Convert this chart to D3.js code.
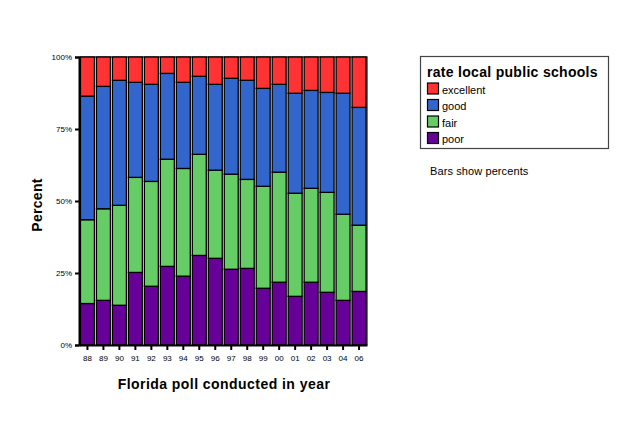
<!DOCTYPE html>
<html><head><meta charset="utf-8">
<script src="https://cdn.jsdelivr.net/npm/d3@7"></script>
<style>body{margin:0;background:#fff;} text{font-family:"Liberation Sans",Arial,sans-serif;}</style>
</head><body>
<svg id="c" width="634" height="421"></svg>
<script>
const years = ["88","89","90","91","92","93","94","95","96","97","98","99","00","01","02","03","04","06"];
const poor = [14.4,15.5,13.8,25.2,20.4,27.3,23.9,31.1,30.1,26.3,26.6,19.7,21.8,16.9,21.8,18.3,15.5,18.6];
const fair = [29.1,31.8,34.7,33.0,36.4,37.2,37.4,35.1,30.6,33.0,30.9,35.4,38.2,35.8,32.6,34.7,29.9,23.0];
const good = [42.9,42.5,43.4,33.0,33.7,29.8,29.9,27.1,29.8,33.3,34.4,34.0,30.5,34.7,34.0,34.7,42.0,40.9];
const excellent = [13.6,10.2,8.1,8.8,9.5,5.7,8.8,6.7,9.5,7.4,8.1,10.9,9.5,12.6,11.6,12.3,12.6,17.5];
const seriesNames = ["poor","fair","good","excellent"];
const seriesColors = ["#660099","#66cc66","#3366cc","#ff3333"];
const yTicks = [0,25,50,75,100];
const legendOrder = ["excellent","good","fair","poor"];

const rows = years.map((y,i)=>({year:y, poor:poor[i], fair:fair[i], good:good[i], excellent:excellent[i]}));
const svg = d3.select("#c");
const L=79, R=367, T=57, B=345;
const x = d3.scaleBand().domain(years).range([L+0.5,R]).paddingInner(0.125).paddingOuter(0.06);
const y = d3.scaleLinear().domain([0,100]).range([B,T]);
const color = d3.scaleOrdinal().domain(seriesNames).range(seriesColors);
const stack = d3.stack().keys(seriesNames)(rows);

// frame top/right
svg.append("path").attr("d",`M${L},${T}H${R}V${B}`).attr("fill","none").attr("stroke","#444").attr("stroke-width",1.5);

svg.append("g").selectAll("g").data(stack).join("g").attr("fill",d=>color(d.key))
 .selectAll("rect").data(d=>d).join("rect")
 .attr("x",d=>x(d.data.year)).attr("width",x.bandwidth())
 .attr("y",d=>y(d[1])).attr("height",d=>y(d[0])-y(d[1]))
 .attr("stroke","#000").attr("stroke-width",1.3);

// axes
const ya = svg.append("g").attr("transform",`translate(${L},0)`)
 .call(d3.axisLeft(y).tickValues(yTicks).tickFormat(d=>d+"%").tickSize(4).tickPadding(3));
ya.select(".domain").attr("stroke","#000").attr("stroke-width",2);
ya.selectAll(".tick line").attr("stroke","#000").attr("stroke-width",2);
ya.selectAll("text").attr("font-size",8).attr("fill","#000");

const xa = svg.append("g").attr("transform",`translate(0,${B})`)
 .call(d3.axisBottom(x).tickSize(5).tickPadding(5).tickSizeOuter(0));
xa.select(".domain").attr("stroke","#000").attr("stroke-width",2);
xa.selectAll(".tick line").attr("stroke","#000").attr("stroke-width",2);
xa.selectAll("text").attr("font-size",8).attr("fill","#000");

svg.append("text").attr("transform","translate(42,205) rotate(-90)").attr("text-anchor","middle")
 .attr("font-size",14).attr("font-weight","bold").attr("letter-spacing",0.3).text("Percent");
svg.append("text").attr("x",224).attr("y",389).attr("text-anchor","middle")
 .attr("font-size",14).attr("font-weight","bold").attr("letter-spacing",0.45).text("Florida poll conducted in year");

// legend
const lg = svg.append("g");
lg.append("rect").attr("x",420.5).attr("y",56.5).attr("width",188).attr("height",92)
 .attr("fill","#fff").attr("stroke","#444").attr("stroke-width",1.2);
lg.append("text").attr("x",427).attr("y",77).attr("font-size",14).attr("font-weight","bold").attr("letter-spacing",0.3).text("rate local public schools");
legendOrder.forEach((k,i)=>{
  lg.append("rect").attr("x",427.5).attr("y",83+i*16.5).attr("width",11).attr("height",11)
   .attr("fill",color(k)).attr("stroke","#000").attr("stroke-width",1.2);
  lg.append("text").attr("x",442).attr("y",93.5+i*16.5).attr("font-size",11).text(k);
});
svg.append("text").attr("x",430).attr("y",175).attr("font-size",11).attr("letter-spacing",0.1).text("Bars show percents");
</script>
</body></html>
